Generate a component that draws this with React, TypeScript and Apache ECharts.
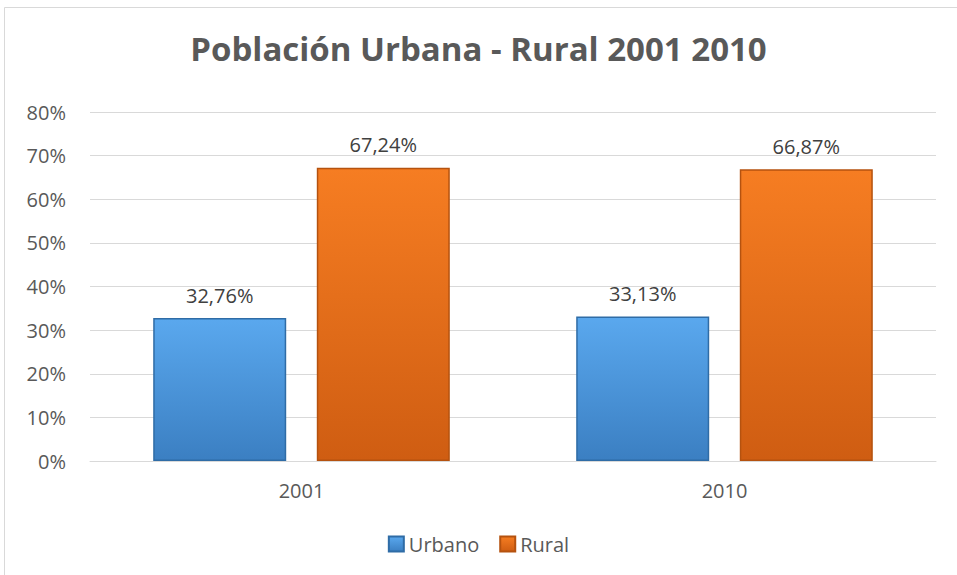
import React, { useEffect, useRef } from "react";
import * as echarts from "echarts";

const categories = ["2001", "2010"];
const urbano = [32.76, 33.13];
const rural = [67.24, 66.87];
const yTicks = [0, 10, 20, 30, 40, 50, 60, 70, 80];

const FONT = "'Open Sans', 'Noto Sans', sans-serif";

export default function App() {
  const ref = useRef<HTMLDivElement>(null);
  useEffect(() => {
    if (!ref.current) return;
    const chart = echarts.init(ref.current, null, { renderer: "svg" });
    const fmt = (v: number) => v.toFixed(2).replace(".", ",") + "%";
    chart.setOption({
      animation: false,
      backgroundColor: "#ffffff",
      title: {
        text: "Población Urbana - Rural 2001 2010",
        left: "center",
        top: 27,
        textStyle: { fontFamily: FONT, fontWeight: "bold", fontSize: 33, color: "#595959" },
      },
      graphic: [
        {
          type: "rect",
          shape: { x: 4.5, y: 7.5, width: 1000, height: 1000 },
          style: { fill: "none", stroke: "#d9d9d9", lineWidth: 1 },
          silent: true,
        },
      ],
      legend: {
        bottom: 16,
        left: "center",
        icon: "rect",
        itemWidth: 15,
        itemHeight: 15,
        itemGap: 20,
        textStyle: { fontFamily: FONT, fontSize: 20, color: "#595959" },
        data: ["Urbano", "Rural"],
      },
      grid: { left: 90, right: 21, top: 112, bottom: 114, containLabel: false },
      xAxis: {
        type: "category",
        data: categories,
        axisLine: { lineStyle: { color: "#d9d9d9" } },
        axisTick: { show: false },
        axisLabel: { fontFamily: FONT, fontSize: 20, color: "#595959", margin: 19 },
      },
      yAxis: {
        type: "value",
        min: 0,
        max: 80,
        interval: 10,
        axisLabel: {
          fontFamily: FONT,
          fontSize: 20,
          color: "#595959",
          margin: 24,
          formatter: (v: number) => (yTicks.includes(v) ? v + "%" : ""),
        },
        splitLine: { lineStyle: { color: "#d9d9d9" } },
        axisLine: { show: false },
        axisTick: { show: false },
      },
      series: [
        {
          name: "Urbano",
          type: "bar",
          data: urbano,
          barWidth: 133,
          barGap: "23%",
          itemStyle: {
            color: new echarts.graphic.LinearGradient(0, 0, 0, 1, [
              { offset: 0, color: "#5aa8ee" },
              { offset: 1, color: "#3b7fc2" },
            ]),
            borderColor: "#2f6ca6",
            borderWidth: 1.5,
          },
          label: {
            show: true,
            position: "top",
            distance: 13,
            fontFamily: FONT,
            fontSize: 20,
            color: "#404040",
            formatter: (p: any) => fmt(p.value),
          },
        },
        {
          name: "Rural",
          type: "bar",
          data: rural,
          barWidth: 133,
          itemStyle: {
            color: new echarts.graphic.LinearGradient(0, 0, 0, 1, [
              { offset: 0, color: "#f67d22" },
              { offset: 1, color: "#cf5d12" },
            ]),
            borderColor: "#b5520f",
            borderWidth: 1.5,
          },
          label: {
            show: true,
            position: "top",
            distance: 13,
            fontFamily: FONT,
            fontSize: 20,
            color: "#404040",
            formatter: (p: any) => fmt(p.value),
          },
        },
      ],
    });
    return () => chart.dispose();
  }, []);
  return (
    <div
      ref={ref}
      style={{ position: "absolute", left: 0, top: 0, width: 957, height: 575 }}
    />
  );
}
